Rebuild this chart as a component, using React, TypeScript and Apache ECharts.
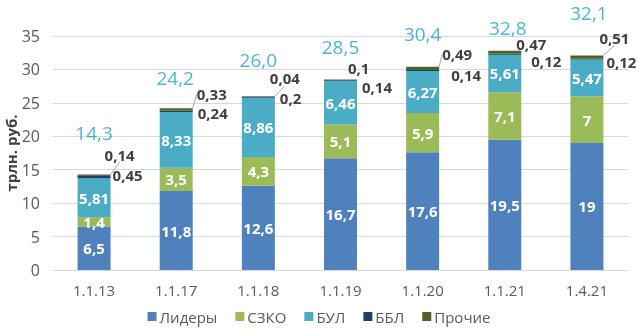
import React, { useEffect, useRef } from "react";
import * as echarts from "echarts";

const categories = ["1.1.13", "1.1.17", "1.1.18", "1.1.19", "1.1.20", "1.1.21", "1.4.21"];
const leaders = [6.5, 11.8, 12.6, 16.7, 17.6, 19.5, 19];
const szko = [1.4, 3.5, 4.3, 5.1, 5.9, 7.1, 7];
const bul = [5.81, 8.33, 8.86, 6.46, 6.27, 5.61, 5.47];
const bbl = [0.45, 0.24, 0.2, 0.14, 0.14, 0.12, 0.12];
const other = [0.14, 0.33, 0.04, 0.1, 0.49, 0.47, 0.51];
const totals = [14.3, 24.2, 26.0, 28.5, 30.4, 32.8, 32.1];

// label placement (styling only)
const totalOffsets = [[0, -41], [-1, -30], [0, -36], [0, -32], [0, -33], [3, -23], [2, -42]];
const bblShift = [[-3, -2], [0, 2], [0, 1], [0, 6], [7, 5], [5, 7], [-2, 3]];
const otherShift = [[-11, -20], [-1, -15], [-10, -18], [-14, -12], [-2, -14], [-10, -8], [-9, -19]];
const otherLine = [true, true, true, false, true, false, true];

const FONT = "'Open Sans', 'Noto Sans', sans-serif";
const fmt = (v: number) => String(v).replace(".", ",");

export default function App() {
  const ref = useRef<HTMLDivElement>(null);
  useEffect(() => {
    if (!ref.current) return;
    const chart = echarts.init(ref.current, undefined, { renderer: "svg" });
    const insideLabel = {
      show: true,
      position: "inside",
      color: "#ffffff",
      fontWeight: "bold",
      fontSize: 15,
      fontFamily: FONT,
      formatter: (p: any) => fmt(p.value),
    };
    const outsideLabel = {
      show: true,
      position: "right",
      distance: 5,
      color: "#404040",
      fontWeight: "bold",
      fontSize: 15,
      lineHeight: 14,
      fontFamily: FONT,
      formatter: (p: any) => fmt(p.value),
    };
    const barWidth = 33;
    chart.setOption({
      animation: false,
      textStyle: { fontFamily: FONT },
      grid: { left: 53, right: 10, top: 36, bottom: 64, outerBoundsMode: "none", containLabel: false },
      xAxis: {
        type: "category",
        data: categories,
        axisLine: { show: true, lineStyle: { color: "#d9d9d9" } },
        axisTick: { show: false },
        axisLabel: { color: "#595959", fontSize: 15, margin: 12, fontFamily: FONT },
      },
      yAxis: {
        type: "value",
        min: 0,
        max: 35,
        interval: 5,
        name: "трлн. руб.",
        nameLocation: "middle",
        nameGap: 35,
        nameMoveOverlap: false,
        nameTextStyle: { color: "#404040", fontSize: 15, fontWeight: "bold", fontFamily: FONT },
        axisLine: { show: false },
        axisTick: { show: false },
        axisLabel: { color: "#595959", fontSize: 16, margin: 13, fontFamily: FONT },
        splitLine: { lineStyle: { color: "#d9d9d9" } },
      },
      legend: {
        bottom: 5,
        left: "center",
        icon: "rect",
        itemWidth: 9,
        itemHeight: 9,
        itemGap: 18,
        textStyle: { color: "#595959", fontSize: 15, fontFamily: FONT, padding: [0, 0, 0, -2] },
        data: ["Лидеры", "СЗКО", "БУЛ", "ББЛ", "Прочие"],
      },
      series: [
        { name: "Лидеры", type: "bar", stack: "s", barWidth, data: leaders, itemStyle: { color: "#4f81bd" }, label: insideLabel },
        { name: "СЗКО", type: "bar", stack: "s", barWidth, data: szko, itemStyle: { color: "#9bbb59" }, label: insideLabel },
        { name: "БУЛ", type: "bar", stack: "s", barWidth, data: bul, itemStyle: { color: "#4bacc6" }, label: insideLabel },
        {
          name: "ББЛ",
          type: "bar",
          stack: "s",
          barWidth,
          data: bbl,
          itemStyle: { color: "#1f3f63" },
          label: outsideLabel,
          labelLayout: (p: any) => ({ dx: bblShift[p.dataIndex][0], dy: bblShift[p.dataIndex][1] }),
        },
        {
          name: "Прочие",
          type: "bar",
          stack: "s",
          barWidth,
          data: other.map((v, i) => ({ value: v, labelLine: { show: otherLine[i] } })),
          itemStyle: { color: "#4f6228" },
          label: outsideLabel,
          labelLine: { show: true, lineStyle: { color: "#a6a6a6", width: 1 } },
          labelLayout: (p: any) => ({ dx: otherShift[p.dataIndex][0], dy: otherShift[p.dataIndex][1] }),
        },
        {
          name: "total",
          type: "scatter",
          symbolSize: 0,
          silent: true,
          data: totals.map((v, i) => ({
            value: v,
            label: { offset: totalOffsets[i] },
          })),
          label: {
            show: true,
            position: "inside",
            color: "#22a3c3",
            fontSize: 19,
            lineHeight: 16,
            fontFamily: FONT,
            formatter: (p: any) => p.value.toFixed(1).replace(".", ","),
          },
        },
      ],
    });
    return () => chart.dispose();
  }, []);
  return (
    <div
      ref={ref}
      style={{ position: "fixed", left: 0, top: 0, width: 638, height: 334 }}
    />
  );
}
